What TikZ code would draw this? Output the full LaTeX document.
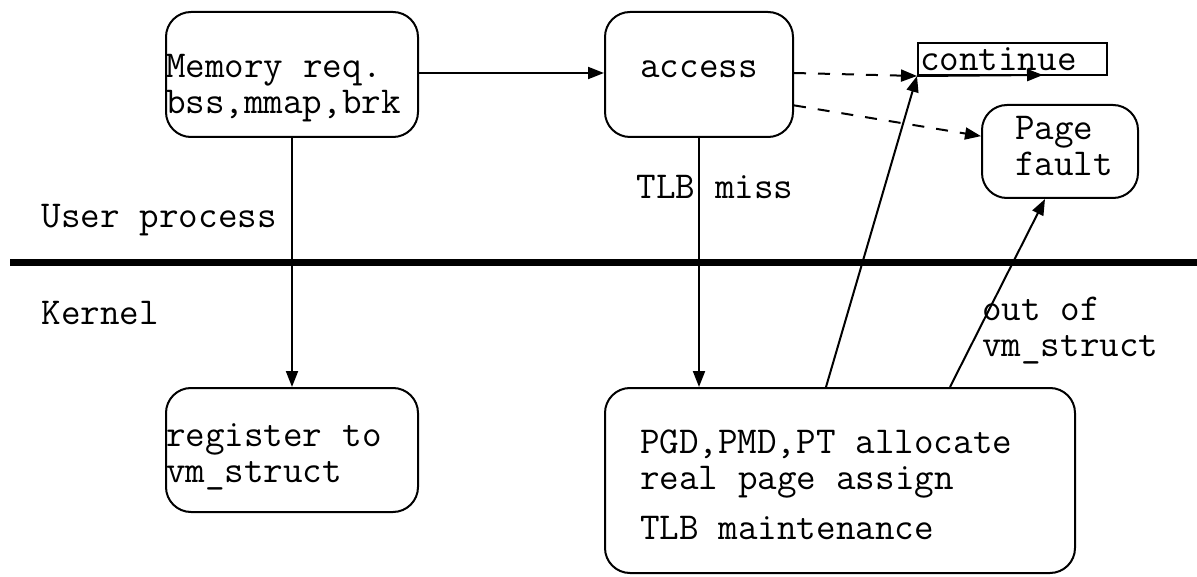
\documentclass[tikz,border=0pt]{standalone}
\usepackage{fontspec}
\usetikzlibrary{arrows.meta}
\newcommand{\diagfont}{\ttfamily\fontsize{38}{36}\selectfont}

\begin{document}
\begin{tikzpicture}[
    x=1pt,y=-1pt,
    every node/.style={font=\diagfont,execute at begin node={\spaceskip=0.525em\relax}},
    box/.style={draw,line width=2pt,rounded corners=25pt,inner sep=0pt,align=left},
    arr/.style={line width=2pt,-{Triangle[length=16pt,width=12pt]}},
    darr/.style={arr,dash pattern=on 12pt off 12pt}
]
\useasboundingbox (0,0) rectangle (1197,577);

% User side
\node[box,minimum width=252pt,minimum height=125pt,text width=252pt] (mem) at (292,74.5) {\rule{0pt}{51pt}Memory req.\\bss,mmap,brk};
\node[box,minimum width=188pt,minimum height=125pt,align=center] (acc) at (699,74.5) {\raisebox{10pt}{access}};
\node[draw,line width=2pt,minimum width=189pt,minimum height=32pt,inner sep=0pt,text width=185pt,align=left,text depth=0pt] (cont) at (1012.5,59) {continue};
\node[box,minimum width=156pt,minimum height=93pt,text width=90pt] (pf) at (1060,151.5) {Page\\fault\rule[-12pt]{0pt}{0pt}};

% Kernel side
\node[box,minimum width=252pt,minimum height=124pt,text width=252pt] (reg) at (292,450) {\rule{0pt}{37pt}register to\\vm\_struct};
\node[box,minimum width=470pt,minimum height=185pt,text width=400pt] (big) at (840,480.5) {\rule{0pt}{33pt}PGD,PMD,PT allocate\\real page assign\\[14pt]TLB maintenance};

% Boundary
\draw[line width=7pt] (10,263) -- (1197,263);
\node[anchor=west] (user) at (38,220) {User process};
\node[anchor=west] (kern) at (38,313) {Kernel};

% Labels
\node[anchor=west] (miss) at (633,187) {TLB miss};
\node[anchor=west,align=left,inner sep=0pt] (oom) at (982,331) {out of\\vm\_struct};

% Arrows
\coordinate (contmid) at (1043,75);
\draw[arr] (mem.east |- 0,73) -- (acc.west |- 0,73);
\draw[darr] (acc.east |- 0,73) -- (cont.south west);
\draw[darr] (acc.-18.5) -- (pf.169.5);
\draw[arr] (mem.south) -- (reg.north);
\draw[arr] (acc.south) -- (acc.south |- big.north);
\draw[arr] ([xshift=-14pt]big.north) -- (cont.south west);
\draw[arr] ([xshift=110pt]big.north) -- ([xshift=-15pt]pf.south);
\draw[arr] (cont.south west) -- (contmid);

\end{tikzpicture}
\end{document}
